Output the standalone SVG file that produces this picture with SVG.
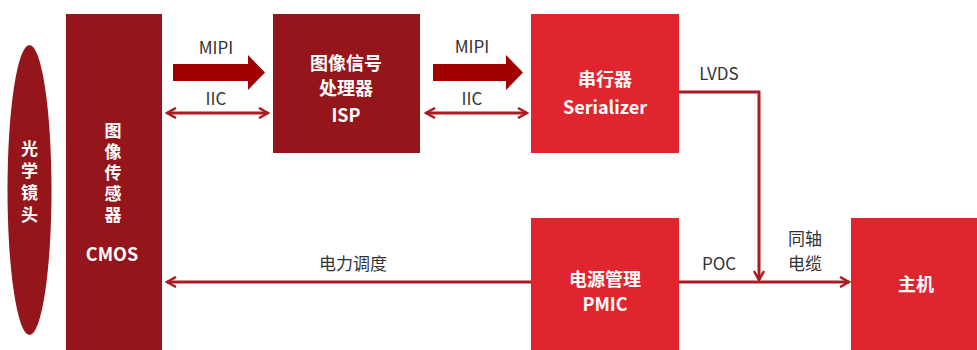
<svg xmlns="http://www.w3.org/2000/svg" width="977" height="350" viewBox="0 0 977 350">
<defs>
<style>
.dark{fill:#94161b}
.bright{fill:#e1252f}
.wt{fill:#ffffff;font-family:"Noto Sans CJK SC","Liberation Sans",sans-serif;font-weight:bold;font-size:18px;text-anchor:middle;dominant-baseline:central}
.vt{fill:#ffffff;font-family:"Noto Sans CJK SC","Liberation Sans",sans-serif;font-weight:bold;font-size:17px;text-anchor:middle;writing-mode:vertical-rl}
.lbl{fill:#333333;font-family:"Noto Sans CJK SC","Liberation Sans",sans-serif;font-size:17px;text-anchor:middle;dominant-baseline:central}
.ln{stroke:#a81c22;stroke-width:3;fill:none}
.thick{fill:#a00000}
</style>
<marker id="ah" viewBox="0 0 12 12" refX="10" refY="6" markerWidth="12" markerHeight="12" markerUnits="userSpaceOnUse" orient="auto-start-reverse">
<path d="M1,1 L10,6 L1,11" fill="none" stroke="#a81c22" stroke-width="2.5"/>
</marker>
</defs>
<rect width="977" height="350" fill="#ffffff"/>
<g id="lens">
<ellipse cx="29.5" cy="190" rx="22" ry="145" class="dark"/>
<text class="vt" x="29.5" y="184" letter-spacing="5">光学镜头</text>
</g>
<g id="cmos">
<rect x="66" y="14" width="96" height="340" class="dark"/>
<text class="vt" x="113" y="175" letter-spacing="4">图像传感器</text>
<text class="wt" x="112" y="253">CMOS</text>
</g>
<g id="isp">
<rect x="273" y="14" width="147" height="139" class="dark"/>
<text class="wt" x="346" y="62">图像信号</text>
<text class="wt" x="346" y="87">处理器</text>
<text class="wt" x="346" y="114">ISP</text>
</g>
<g id="serializer">
<rect x="531" y="14" width="148" height="139" class="bright"/>
<text class="wt" x="605" y="78">串行器</text>
<text class="wt" x="605" y="106">Serializer</text>
</g>
<g id="pmic">
<rect x="531" y="218" width="148" height="136" class="bright"/>
<text class="wt" x="605" y="278">电源管理</text>
<text class="wt" x="605" y="303">PMIC</text>
</g>
<g id="host">
<rect x="851" y="218" width="130" height="136" class="bright"/>
<text class="wt" x="916" y="283">主机</text>
</g>
<g id="connectors">
<path class="thick" d="M173,64 L248,64 L248,55 L265,72.5 L248,90 L248,81 L173,81 Z"/>
<path class="thick" d="M433,64 L506,64 L506,55 L523,72.5 L506,90 L506,81 L433,81 Z"/>
<line class="ln" x1="167" y1="113" x2="268" y2="113" marker-start="url(#ah)" marker-end="url(#ah)"/>
<line class="ln" x1="426" y1="113" x2="527" y2="113" marker-start="url(#ah)" marker-end="url(#ah)"/>
<line class="ln" x1="531" y1="282" x2="167" y2="282" marker-end="url(#ah)"/>
<polyline class="ln" points="679,92 759,92 759,280" marker-end="url(#ah)"/>
<line class="ln" x1="679" y1="282" x2="849" y2="282" marker-end="url(#ah)"/>
<text class="lbl" x="216" y="46">MIPI</text>
<text class="lbl" x="216" y="97">IIC</text>
<text class="lbl" x="472" y="45">MIPI</text>
<text class="lbl" x="472" y="97">IIC</text>
<text class="lbl" x="719" y="72">LVDS</text>
<text class="lbl" x="719" y="262">POC</text>
<text class="lbl" x="805" y="237">同轴</text>
<text class="lbl" x="805" y="262">电缆</text>
<text class="lbl" x="353" y="262">电力调度</text>
</g>
</svg>
